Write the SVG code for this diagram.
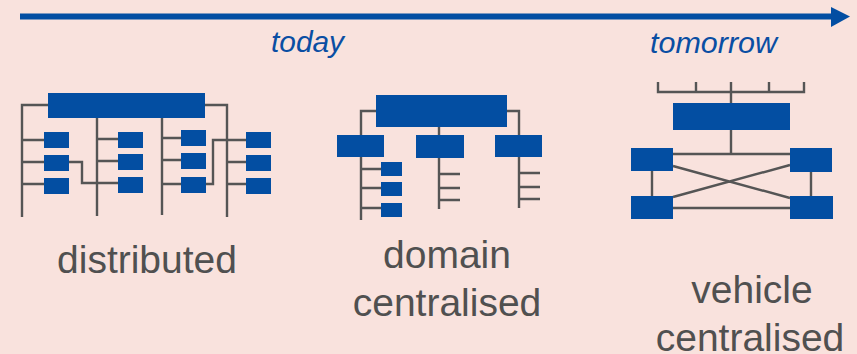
<svg xmlns="http://www.w3.org/2000/svg" width="857" height="354" viewBox="0 0 857 354">
<style>
.bx{fill:#034ea2}
.ln{stroke:#555555;stroke-width:2.4;fill:none;stroke-linejoin:miter}
.lbl{font-family:"Liberation Sans",Arial,sans-serif;font-size:39px;fill:#505050;text-anchor:middle}
.tm{font-family:"Liberation Sans",Arial,sans-serif;font-size:29px;font-style:italic;fill:#0a4ea3}
</style>
<rect width="857" height="354" fill="#f9e2dd"/>
<g id="timeline">
<rect x="20" y="13.5" width="813" height="6" fill="#034ea2"/>
<polygon points="831,7 850,16.5 831,27" fill="#034ea2"/>
<text class="tm" x="271" y="52" textLength="73" lengthAdjust="spacingAndGlyphs">today</text>
<text class="tm" x="650" y="53" textLength="127" lengthAdjust="spacingAndGlyphs">tomorrow</text>
</g>
<g id="connectors">
<path class="ln" d="M48,105 H22 V217 M205,105 H227 V217 M97,114 V216 M162,118 V215
M22,140 H44 M22,162 H44 M22,184 H44
M69,162 H82 V183 H118 M97,139 H118 M97,161 H118
M162,138 H181 M162,160 H181 M162,184 H181 M206,184 H213 V140 H246
M227,162 H246 M227,184 H246"/>
<path class="ln" d="M376,111 H361 V135 M507,111 H519 V135 M439,127 V135
M361,157 V220 M361,169 H381 M361,188 H381 M361,208 H381
M439,158 V209 M439,174 H460 M439,188 H460 M439,200 H460
M519,157 V208 M519,173 H540 M519,187 H540 M519,199 H540"/>
<path class="ln" d="M658,82 V92 H804 V82 M696,82 V92 M731,82 V103 M769,82 V92
M731,130 V154 M673,154 H790 M673,208 H790 M673,166 L790,198 M673,197 L790,165
M652,171 V196 M811,172 V196"/>
</g>
<g id="distributed">
<rect class="bx" x="48" y="93" width="157" height="25"/>
<rect class="bx" x="44" y="132" width="25" height="16"/>
<rect class="bx" x="44" y="155" width="25" height="16"/>
<rect class="bx" x="44" y="178" width="25" height="16"/>
<rect class="bx" x="118" y="132" width="25" height="16"/>
<rect class="bx" x="118" y="154" width="25" height="16"/>
<rect class="bx" x="118" y="177" width="25" height="16"/>
<rect class="bx" x="181" y="130" width="25" height="16"/>
<rect class="bx" x="181" y="153" width="25" height="16"/>
<rect class="bx" x="181" y="177" width="25" height="16"/>
<rect class="bx" x="246" y="132" width="25" height="16"/>
<rect class="bx" x="246" y="155" width="25" height="16"/>
<rect class="bx" x="246" y="178" width="25" height="16"/>
<text class="lbl" x="147" y="273">distributed</text>
</g>
<g id="domain">
<rect class="bx" x="376" y="95" width="131" height="32"/>
<rect class="bx" x="337" y="135" width="47" height="22"/>
<rect class="bx" x="416" y="135" width="48" height="23"/>
<rect class="bx" x="495" y="135" width="47" height="22"/>
<rect class="bx" x="381" y="162" width="21" height="14"/>
<rect class="bx" x="381" y="182" width="21" height="14"/>
<rect class="bx" x="381" y="203" width="21" height="14"/>
<text class="lbl" x="447" y="268">domain</text>
<text class="lbl" x="447" y="316">centralised</text>
</g>
<g id="vehicle">
<rect class="bx" x="673" y="103" width="117" height="27"/>
<rect class="bx" x="631" y="148" width="42" height="23"/>
<rect class="bx" x="790" y="148" width="42" height="24"/>
<rect class="bx" x="631" y="196" width="42" height="23"/>
<rect class="bx" x="790" y="196" width="43" height="23"/>
<text class="lbl" x="752" y="303">vehicle</text>
<text class="lbl" x="750" y="351">centralised</text>
</g>
</svg>
